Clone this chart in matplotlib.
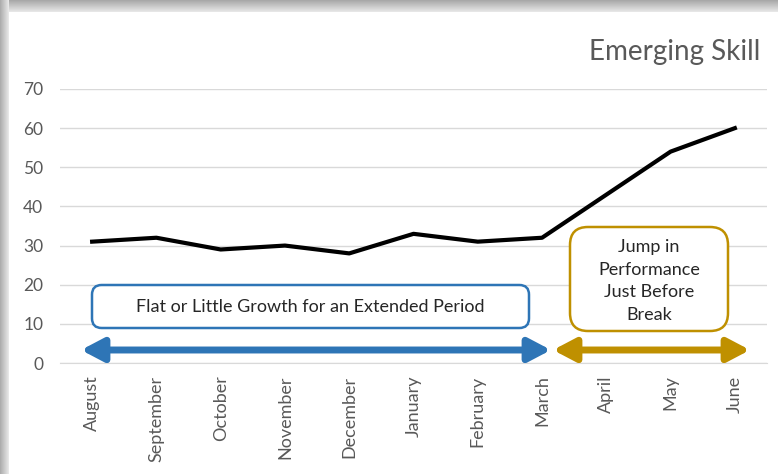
import matplotlib
matplotlib.use("Agg")
import matplotlib.pyplot as plt
from matplotlib.patches import FancyBboxPatch, FancyArrowPatch, Rectangle
import numpy as np

months = ["August", "September", "October", "November", "December", "January",
          "February", "March", "April", "May", "June"]
scores = [31, 32, 29, 30, 28, 33, 31, 32, 43, 54, 60]
yticks = [0, 10, 20, 30, 40, 50, 60, 70]
title = "Emerging Skill"
flat_label = "Flat or Little Growth for an Extended Period"
jump_label = "Jump in\nPerformance\nJust Before\nBreak"

W, H = 778, 474
fig = plt.figure(figsize=(W / 100, H / 100), dpi=100)
fig.patch.set_facecolor("white")

# shadow frame (top and left)
bg = fig.add_axes([0, 0, 1, 1], zorder=-5)
bg.set_xlim(0, W)
bg.set_ylim(H, 0)
bg.axis("off")
for i in range(12):
    c = 0.66 + 0.022 * i
    bg.add_patch(Rectangle((0, i), W, 1, color=(c, c, c), lw=0))
for i in range(9):
    c = 0.68 + 0.028 * i
    bg.add_patch(Rectangle((i, 0), 1, H, color=(c, c, c), lw=0))
bg.add_patch(Rectangle((9, 12), W, H, color="white", lw=0))

ax = fig.add_axes([60 / W, 1 - 363 / H, (767 - 60) / W, (363 - 89) / H])
x = np.arange(len(months))
ax.plot(x, scores, color="black", lw=3.0, solid_joinstyle="round", zorder=3)
ax.set_xlim(-0.5, len(months) - 0.5)
ax.set_ylim(0, 70)
ax.set_yticks(yticks)
ax.set_xticks(x)
ax.set_xticklabels(months, rotation=90, fontsize=13, color="#595959", family="Lato")
ax.set_yticklabels([str(v) for v in yticks], fontsize=12.5, color="#595959", family="Lato")
ax.tick_params(axis="y", length=0, pad=12)
ax.tick_params(axis="x", length=0, pad=9)
ax.grid(axis="y", color="#d9d9d9", lw=1)
ax.set_axisbelow(True)
for s in ax.spines.values():
    s.set_visible(False)
ax.spines["bottom"].set_visible(True)
ax.spines["bottom"].set_color("#d9d9d9")

# pixel-to-data helpers
ux = (767 - 60) / len(months)
uy = (363 - 89) / 70.0
aspect = ux / uy

def px2x(px):
    return -0.5 + (px - 60) / ux

def py2y(py):
    return (363 - py) / uy

# boxes
bx0, bx1, by0, by1 = px2x(92), px2x(529), py2y(328), py2y(285)
ax.add_patch(FancyBboxPatch((bx0, by0), bx1 - bx0, by1 - by0,
                            boxstyle="round,pad=0,rounding_size=0.15",
                            mutation_aspect=aspect, fc="white", ec="#2E75B6",
                            lw=1.8, zorder=4))
ax.text((bx0 + bx1) / 2, (by0 + by1) / 2, flat_label, ha="center", va="center",
        fontsize=13, family="Lato", color="#262626", zorder=5)

gx0, gx1, gy0, gy1 = px2x(570), px2x(728), py2y(331), py2y(227)
ax.add_patch(FancyBboxPatch((gx0, gy0), gx1 - gx0, gy1 - gy0,
                            boxstyle="round,pad=0,rounding_size=0.28",
                            mutation_aspect=aspect, fc="white", ec="#BF9000",
                            lw=1.8, zorder=4))
ax.text((gx0 + gx1) / 2, py2y(281), jump_label, ha="center", va="center",
        fontsize=13, family="Lato", color="#262626", linespacing=1.5, zorder=5)

# arrows
ay = py2y(350)
for x0, x1, col in [(px2x(81), px2x(551), "#2E75B6"), (px2x(553), px2x(750), "#BF9000")]:
    ax.add_patch(FancyArrowPatch((x0, ay), (x1, ay),
                                 arrowstyle="<|-|>,head_length=0.95,head_width=0.5",
                                 mutation_scale=14, color=col, lw=5,
                                 shrinkA=0, shrinkB=0, zorder=4))

fig.text(760 / W, 1 - 52 / H, title, ha="right", va="center", fontsize=20,
         color="#595959", family="Lato")

fig.savefig("out.png", dpi=100)
